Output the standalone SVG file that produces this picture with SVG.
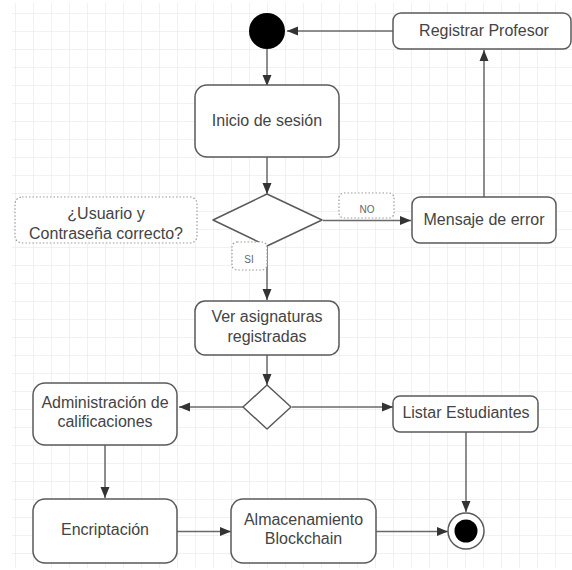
<svg xmlns="http://www.w3.org/2000/svg" width="572" height="570" viewBox="0 0 572 570">
<defs>
<pattern id="grid" x="15" y="13" width="18" height="18" patternUnits="userSpaceOnUse">
<path d="M0,0 V18 M0,0 H18" fill="none" stroke="#e4e4e4" stroke-width="1"/>
</pattern>
<marker id="arr" markerUnits="userSpaceOnUse" markerWidth="12" markerHeight="10" refX="11" refY="5" orient="auto">
<path d="M0,0.5 L11,5 L0,9.5 z" fill="#333"/>
</marker>
<style>
.box{fill:#fff;stroke:#5a5a5a;stroke-width:1.5}
.t{font-family:"Liberation Sans",Arial,sans-serif;font-size:16px;fill:#444;text-anchor:middle}
.s{font-family:"Liberation Sans",Arial,sans-serif;font-size:10px;fill:#666;text-anchor:middle}
.dot{fill:#fff;stroke:#9a9a9a;stroke-width:1.2;stroke-dasharray:1.5 2}
.c{fill:none;stroke:#6a6a6a;stroke-width:1.5;marker-end:url(#arr)}
</style>
</defs>
<rect x="0" y="0" width="572" height="570" fill="#fff"/>
<rect x="12" y="3" width="560" height="565" fill="url(#grid)"/>

<g id="connectors">
<path class="c" d="M267,49 V86"/>
<path class="c" d="M267,157 V194"/>
<path class="c" d="M323,220.5 H411"/>
<path class="c" d="M484,197 V50"/>
<path class="c" d="M393,31 H287"/>
<path class="c" d="M267,246 V300"/>
<path class="c" d="M267,355 V385"/>
<path class="c" d="M243,407 H179"/>
<path class="c" d="M292,407 H393"/>
<path class="c" d="M105,445 V498"/>
<path class="c" d="M177,531.5 H231"/>
<path class="c" d="M376,531.5 H448"/>
<path class="c" d="M466,432 V512"/>
</g>

<g id="start"><circle cx="267" cy="31" r="18" fill="#000"/></g>

<g id="registrar">
<rect class="box" x="393" y="13" width="178" height="36" rx="8"/>
<text class="t" x="484" y="35.5">Registrar Profesor</text>
</g>

<g id="inicio">
<rect class="box" x="195" y="85" width="144" height="72" rx="12"/>
<text class="t" x="267" y="126">Inicio de sesión</text>
</g>

<g id="pregunta">
<rect class="dot" x="15" y="197" width="182" height="46" rx="7"/>
<text class="t" x="106" y="219">¿Usuario y</text>
<text class="t" x="106" y="239">Contraseña correcto?</text>
</g>

<g id="decision1">
<path d="M267,194 L322,220 L267,246 L213,220 z" fill="#fff" stroke="#5a5a5a" stroke-width="1.5" stroke-linejoin="round"/>
</g>

<g id="label-no">
<rect class="dot" x="339" y="193" width="55" height="25" rx="5"/>
<text class="s" x="367" y="213">NO</text>
</g>

<g id="label-si">
<rect class="dot" x="232" y="242" width="35" height="28" rx="5"/>
<text class="s" x="249" y="263">SI</text>
</g>

<g id="mensaje">
<rect class="box" x="412" y="197" width="144" height="46" rx="8"/>
<text class="t" x="484" y="224.5">Mensaje de error</text>
</g>

<g id="ver">
<rect class="box" x="195" y="301" width="144" height="54" rx="10"/>
<text class="t" x="267" y="322">Ver asignaturas</text>
<text class="t" x="267" y="342">registradas</text>
</g>

<g id="decision2">
<path d="M267,385 L291,407 L267,429 L243,407 z" fill="#fff" stroke="#5a5a5a" stroke-width="1.5" stroke-linejoin="round"/>
</g>

<g id="admin">
<rect class="box" x="33" y="383" width="144" height="62" rx="12"/>
<text class="t" x="105" y="408">Administración de</text>
<text class="t" x="105" y="427">calificaciones</text>
</g>

<g id="listar">
<rect class="box" x="393" y="396" width="145" height="36" rx="7"/>
<text class="t" x="466" y="418">Listar Estudiantes</text>
</g>

<g id="encriptacion">
<rect class="box" x="33" y="499" width="144" height="64" rx="12"/>
<text class="t" x="105" y="535">Encriptación</text>
</g>

<g id="almacenamiento">
<rect class="box" x="231" y="499" width="145" height="64" rx="12"/>
<text class="t" x="303.5" y="525">Almacenamiento</text>
<text class="t" x="303.5" y="544">Blockchain</text>
</g>

<g id="final">
<circle cx="466" cy="531" r="18" fill="#fff" stroke="#5a5a5a" stroke-width="1.5"/>
<circle cx="466" cy="531" r="11.5" fill="#000"/>
</g>
</svg>
